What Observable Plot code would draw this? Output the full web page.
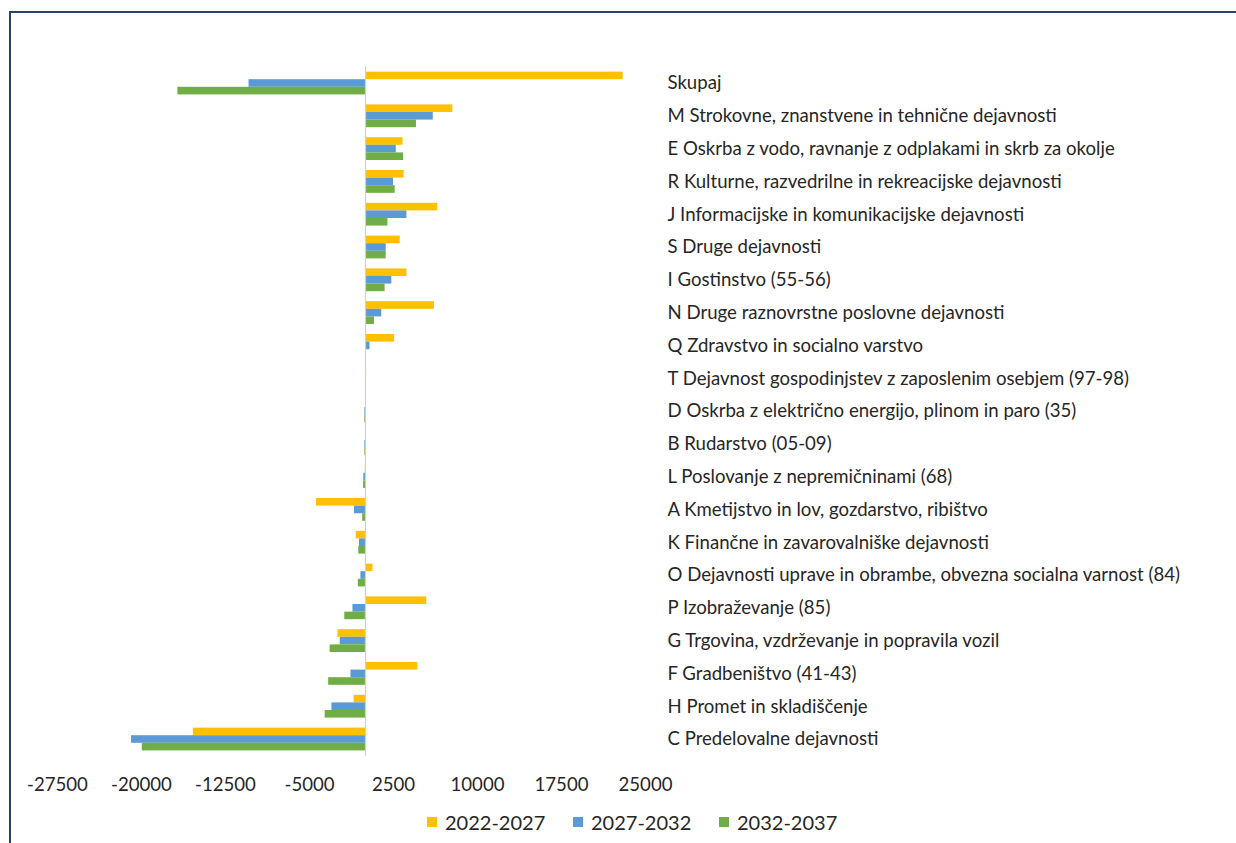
<!DOCTYPE html>
<html>
<head>
<meta charset="utf-8">
<script src="https://cdn.jsdelivr.net/npm/d3@7"></script>
<script src="https://cdn.jsdelivr.net/npm/@observablehq/plot@0.6"></script>
<style>
  html, body { margin: 0; padding: 0; background: #fff; }
  #wrap { position: relative; width: 1236px; height: 843px; overflow: hidden; background: #fff; }
  #frame { position: absolute; left: 9px; top: 11px; width: 1240px; height: 850px;
           border-top: 2px solid #26416b; border-left: 2px solid #26416b; box-sizing: border-box; }
  #chart { position: absolute; left: 0; top: 0; }
  #legend { position: absolute; left: 427px; top: 808px; height: 28px; display: flex;
            font-family: Lato, sans-serif; font-size: 20px; color: #262626; align-items: center; }
  .item { width: 146px; display: flex; align-items: center; }
  .sw { width: 10px; height: 10px; margin-right: 8px; flex: none; }
</style>
</head>
<body>
<div id="wrap">
  <div id="frame"></div>
  <div id="chart"></div>
  <div id="legend"></div>
</div>
<script>
const categories = [
  "Skupaj",
  "M Strokovne, znanstvene in tehnične dejavnosti",
  "E Oskrba z vodo, ravnanje z odplakami in skrb za okolje",
  "R Kulturne, razvedrilne in rekreacijske dejavnosti",
  "J Informacijske in komunikacijske dejavnosti",
  "S Druge dejavnosti",
  "I Gostinstvo (55-56)",
  "N Druge raznovrstne poslovne dejavnosti",
  "Q Zdravstvo in socialno varstvo",
  "T Dejavnost gospodinjstev z zaposlenim osebjem (97-98)",
  "D Oskrba z električno energijo, plinom in paro (35)",
  "B Rudarstvo (05-09)",
  "L Poslovanje z nepremičninami (68)",
  "A Kmetijstvo in lov, gozdarstvo, ribištvo",
  "K Finančne in zavarovalniške dejavnosti",
  "O Dejavnosti uprave in obrambe, obvezna socialna varnost (84)",
  "P Izobraževanje (85)",
  "G Trgovina, vzdrževanje in popravila vozil",
  "F Gradbeništvo (41-43)",
  "H Promet in skladiščenje",
  "C Predelovalne dejavnosti"
];
const seriesNames = ["2022-2027", "2027-2032", "2032-2037"];
const v2022_2027 = [23000, 7800, 3350, 3450, 6450, 3100, 3700, 6150, 2600, 100, 0, 0, -20, -4370, -830, 670, 5470, -2460, 4670, -1020, -15370];
const v2027_2032 = [-10400, 6050, 2750, 2500, 3700, 1850, 2350, 1450, 400, 0, -60, -60, -150, -985, -540, -410, -1120, -2260, -1300, -3000, -20890];
const v2032_2037 = [-16750, 4550, 3400, 2650, 2000, 1850, 1750, 800, 50, 0, -60, -60, -170, -250, -600, -640, -1850, -3160, -3290, -3600, -19930];
const colors = ["#FFC000", "#5B9BD5", "#70AD47"];
const xTicks = [-27500, -20000, -12500, -5000, 2500, 10000, 17500, 25000];

const seriesValues = [v2022_2027, v2027_2032, v2032_2037];
const data = [];
categories.forEach((c, i) => {
  seriesNames.forEach((s, j) => data.push({category: c, series: s, value: seriesValues[j][i]}));
});

// layout constants
const H = 800, MT = 66.6, MB = 44.6, PI = 0.305, PO = PI / 2;
const step = (H - MT - MB) / (categories.length - PI + 2 * PO);
const halfGap = step * PI / 2;

const chart = Plot.plot({
  width: 1236,
  height: H,
  marginLeft: 57,
  marginRight: 591,
  marginTop: MT,
  marginBottom: MB,
  style: {fontFamily: "Lato, sans-serif", fontSize: "18.6px", color: "#262626", background: "transparent"},
  x: {domain: [-27500, 25000], ticks: xTicks, tickSize: 0, tickPadding: 27, tickFormat: d => String(d), label: null},
  y: {domain: seriesNames, axis: null, padding: 0, round: false},
  fy: {domain: categories, paddingInner: PI, paddingOuter: PO, round: false, axis: "right", tickSize: 0, tickPadding: 22, label: null},
  color: {domain: seriesNames, range: colors},
  marks: [
    Plot.barX(data, {x: "value", y: "series", fy: "category", fill: "series"}),
    Plot.ruleX([0], {stroke: "#d0d0d0", strokeWidth: 1.2, insetTop: -halfGap - 0.5, insetBottom: -halfGap - 0.5})
  ]
});
document.getElementById("chart").appendChild(chart);

const legend = document.getElementById("legend");
seriesNames.forEach((s, j) => {
  const item = document.createElement("div");
  item.className = "item";
  const sw = document.createElement("span");
  sw.className = "sw";
  sw.style.background = colors[j];
  const t = document.createElement("span");
  t.textContent = s;
  item.appendChild(sw);
  item.appendChild(t);
  legend.appendChild(item);
});
</script>
</body>
</html>
